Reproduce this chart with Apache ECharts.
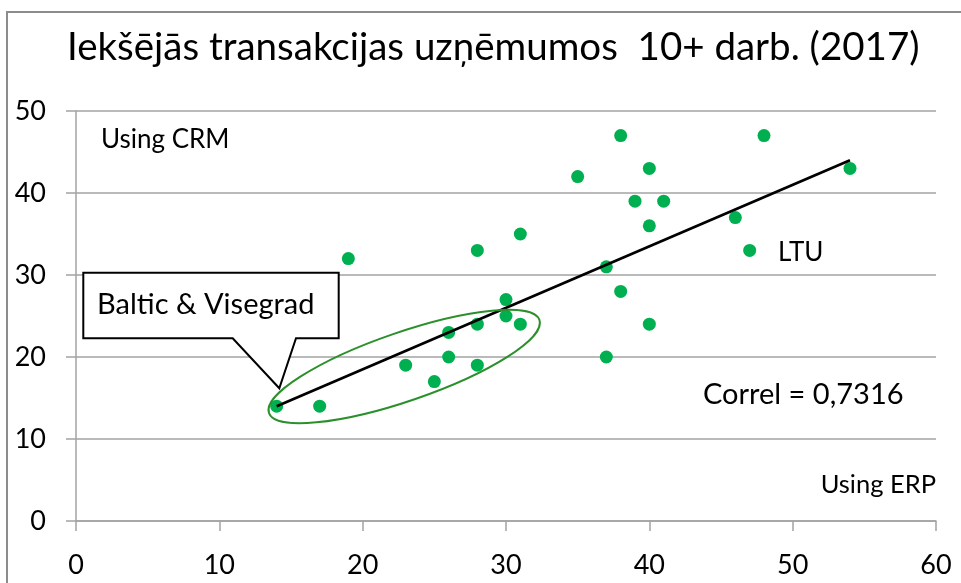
<!DOCTYPE html>
<html><head><meta charset="utf-8">
<script src="https://cdn.jsdelivr.net/npm/echarts@6/dist/echarts.min.js"></script>
<style>html,body{margin:0;padding:0;background:#fff}#c{width:961px;height:583px}</style>
</head><body><div id="c"></div>
<script>
// Data
const xValues = [14, 17, 19, 23, 25, 26, 26, 28, 28, 28, 30, 30, 31, 31, 35, 38, 40, 39, 41, 40, 37, 38, 40, 37, 46, 47, 48, 54];
const yValues = [14, 14, 32, 19, 17, 23, 20, 33, 24, 19, 27, 25, 24, 35, 42, 47, 43, 39, 39, 36, 31, 28, 24, 20, 37, 33, 47, 43];
const trendX = [14, 54];
const trendY = [14, 44];
const xTicks = [0, 10, 20, 30, 40, 50, 60];
const yTicks = [0, 10, 20, 30, 40, 50];
const titleText = 'Iekšējās transakcijas uzņēmumos  10+ darb. (2017)';
const labelCRM = 'Using CRM';
const labelERP = 'Using ERP';
const labelLTU = 'LTU';
const labelCorrel = 'Correl = 0,7316';
const labelCallout = 'Baltic & Visegrad';
const ellipseCenter = [22.9, 18.84];

const FONT = 'Lato, "Open Sans", sans-serif';
const GRID_C = '#a3a3a3';
const chart = echarts.init(document.getElementById('c'), null, {renderer: 'canvas'});
const points = xValues.map((x, i) => [x, yValues[i]]);
const trend = trendX.map((x, i) => [x, trendY[i]]);

chart.setOption({
  animation: false,
  backgroundColor: '#fff',
  title: {
    text: titleText, left: 62, top: 23,
    textStyle: {fontFamily: FONT, fontSize: 38.5, fontWeight: 'normal', color: '#000'}
  },
  grid: {left: 76, right: 25, top: 111, bottom: 62, containLabel: false},
  xAxis: {
    type: 'value', min: xTicks[0], max: xTicks[xTicks.length - 1], interval: 10,
    axisLine: {show: true, lineStyle: {color: GRID_C, width: 1.5}},
    axisTick: {show: true, length: 10, lineStyle: {color: GRID_C, width: 1.5}},
    axisLabel: {margin: 31, fontFamily: FONT, fontSize: 27, color: '#000'},
    splitLine: {show: false}
  },
  yAxis: {
    type: 'value', min: yTicks[0], max: yTicks[yTicks.length - 1], interval: 10,
    axisLine: {show: true, lineStyle: {color: GRID_C, width: 1.5}},
    axisTick: {show: true, length: 10, lineStyle: {color: GRID_C, width: 1.5}},
    axisLabel: {margin: 30, fontFamily: FONT, fontSize: 27, color: '#000'},
    splitLine: {show: true, lineStyle: {color: GRID_C, width: 1.5}}
  },
  series: [
    {type: 'scatter', data: points, symbolSize: 13, itemStyle: {color: '#00B050', opacity: 1}},
    {type: 'line', data: trend, symbol: 'none', lineStyle: {color: '#000', width: 2.7}, z: 3}
  ]
});

const ec = chart.convertToPixel({gridIndex: 0}, ellipseCenter);
const txt = (t, x, y, align, size) => ({
  type: 'text', x: x, y: y, z: 110,
  style: {text: t, fontFamily: FONT, fontSize: size, fill: '#000', align: align, verticalAlign: 'middle'}
});
chart.setOption({
  graphic: [
    {type: 'rect', z: 0, shape: {x: 7, y: 12, width: 1000, height: 1000},
     style: {fill: 'none', stroke: '#8c8c8c', lineWidth: 2}},
    {type: 'ellipse', z: 100, x: ec[0], y: ec[1], rotation: 0.331,
     shape: {cx: 0, cy: 0, rx: 143, ry: 34.3},
     style: {fill: 'none', stroke: '#2b8f2b', lineWidth: 2}},
    {type: 'polygon', z: 105,
     shape: {points: [[83.3, 272.7], [338.7, 272.7], [338.7, 338.3], [296, 338.3], [279.3, 388.3], [232.7, 338.3], [83.3, 338.3]]},
     style: {fill: '#fff', stroke: '#000', lineWidth: 2}},
    txt(labelCallout, 97, 305, 'left', 29),
    txt(labelCRM, 101, 140, 'left', 26),
    txt(labelLTU, 778, 253, 'left', 26),
    txt(labelCorrel, 703, 395, 'left', 29),
    txt(labelERP, 936, 485, 'right', 25.5)
  ]
});
</script></body></html>
